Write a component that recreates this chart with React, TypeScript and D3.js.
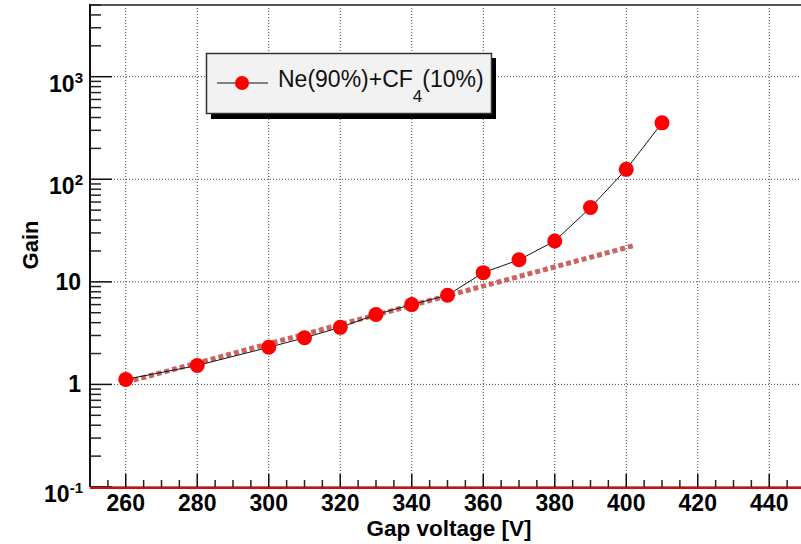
import React from 'react'
import * as d3 from 'd3'

// measured gain vs gap voltage
const voltage = [260, 280, 300, 310, 320, 330, 340, 350, 360, 370, 380, 390, 400, 410]
const gain = [1.12, 1.53, 2.3, 2.85, 3.6, 4.8, 6.0, 7.4, 12.3, 16.4, 25, 53, 125, 355]

// exponential fit (straight in log space), end points
const fitVoltage = [260, 402]
const fitGain = [1.05, 22.5]

const xTicks = [260, 280, 300, 320, 340, 360, 380, 400, 420, 440]
const yDecades = [0.1, 1, 10, 100, 1000]
const yLabels = [['10', '-1'], ['1', ''], ['10', ''], ['10', '2'], ['10', '3']]
const legendLabel = ['Ne(90%)+CF', '4', '(10%)']

const W = 801
const H = 544
const left = 90
const right = 805
const top = 5
const bottom = 487

const App = () => {
  const x = d3.scaleLinear().domain([250, 450]).range([left, right])
  const y = d3.scaleLog().domain([0.1, 5000]).range([bottom, top])

  const minorX = d3.range(250, 451, 5).filter(v => v % 20 !== 0)
  const minorY: number[] = []
  yDecades.forEach(d => {
    for (let k = 2; k <= 9; k++) {
      const v = d * k
      if (v <= 5000) minorY.push(v)
    }
  })

  const line = d3.line<number>()
    .x((d, i) => x(voltage[i]))
    .y(d => y(d))
  const fitLine = d3.line<number>()
    .x((d, i) => x(fitVoltage[i]))
    .y(d => y(d))

  const font = '"Liberation Sans", Arial, Helvetica, sans-serif'

  return (
    <svg width={W} height={H} style={{ position: 'absolute', left: 0, top: 0, background: '#fff' }} fontFamily={font}>
      <rect x={0} y={0} width={W} height={H} fill="#fff" />

      {/* grid */}
      {xTicks.map(t => (
        <line key={'gx' + t} x1={x(t)} x2={x(t)} y1={top} y2={bottom}
          stroke="#444" strokeWidth={1} strokeDasharray="1,2" />
      ))}
      {yDecades.slice(1).map(t => (
        <line key={'gy' + t} x1={left} x2={right} y1={y(t)} y2={y(t)}
          stroke="#444" strokeWidth={1} strokeDasharray="1,2" />
      ))}

      {/* frame */}
      <line x1={left} x2={right} y1={top} y2={top} stroke="#555" strokeWidth={2} />
      <line x1={left} x2={left} y1={top - 1} y2={bottom} stroke="#111" strokeWidth={2} />

      {/* y ticks */}
      {yDecades.map(t => (
        <line key={'ty' + t} x1={left} x2={left + 22} y1={y(t)} y2={y(t)} stroke="#111" strokeWidth={1.5} />
      ))}
      {minorY.map(t => (
        <line key={'my' + t} x1={left} x2={left + 11} y1={y(t)} y2={y(t)} stroke="#222" strokeWidth={1.5} />
      ))}
      {yDecades.map((t, i) => {
        const [base, sup] = yLabels[i]
        if (!sup) {
          return (
            <text key={'ly' + t} x={81} y={y(t) + 8} textAnchor="end" fontSize={23} fontWeight="bold">{base}</text>
          )
        }
        return (
          <text key={'ly' + t} x={83} y={y(t) + 15} textAnchor="end" fontSize={23} fontWeight="bold">
            {base}<tspan fontSize={15} dy={-9}>{sup}</tspan>
          </text>
        )
      })}

      {/* x ticks */}
      {xTicks.map(t => (
        <line key={'tx' + t} x1={x(t)} x2={x(t)} y1={bottom} y2={bottom - 13} stroke="#111" strokeWidth={1.5} />
      ))}
      {minorX.map(t => (
        <line key={'mx' + t} x1={x(t)} x2={x(t)} y1={bottom} y2={bottom - 7} stroke="#222" strokeWidth={1.5} />
      ))}
      <line x1={left} x2={right} y1={bottom} y2={bottom} stroke="#111" strokeWidth={1} />
      <line x1={left} x2={right} y1={bottom + 1} y2={bottom + 1} stroke="#e00" strokeWidth={2} />
      {xTicks.map(t => (
        <text key={'lx' + t} x={x(t)} y={511} textAnchor="middle" fontSize={23} fontWeight="bold">{t}</text>
      ))}

      {/* axis titles */}
      <text x={449} y={536} textAnchor="middle" fontSize={22.5} fontWeight="bold">Gap voltage [V]</text>
      <text transform="translate(38,245) rotate(-90)" textAnchor="middle" fontSize={22} fontWeight="bold">Gain</text>

      {/* fit */}
      <path d={fitLine(fitGain) || ''} fill="none" stroke="#c75250" strokeWidth={5} strokeDasharray="5,3" opacity={0.9} />

      {/* data */}
      <path d={line(gain) || ''} fill="none" stroke="#111" strokeWidth={1} />
      {gain.map((g, i) => (
        <circle key={'p' + i} cx={x(voltage[i])} cy={y(g)} r={7.5} fill="#ff0000" />
      ))}

      {/* legend */}
      <rect x={211} y={58} width={285} height={61} fill="#000" />
      <rect x={206.5} y={53.5} width={285} height={60} fill="#f2f2f2" stroke="#333" strokeWidth={1.5} />
      <line x1={217} x2={268} y1={83} y2={83} stroke="#111" strokeWidth={1} />
      <circle cx={242} cy={83} r={7} fill="#ff0000" />
      <text x={278} y={87} fontSize={23} fill="#111">
        {legendLabel[0]}<tspan fontSize={17} dy={15}>{legendLabel[1]}</tspan><tspan fontSize={23} dy={-15}>{legendLabel[2]}</tspan>
      </text>
    </svg>
  )
}

export default App
